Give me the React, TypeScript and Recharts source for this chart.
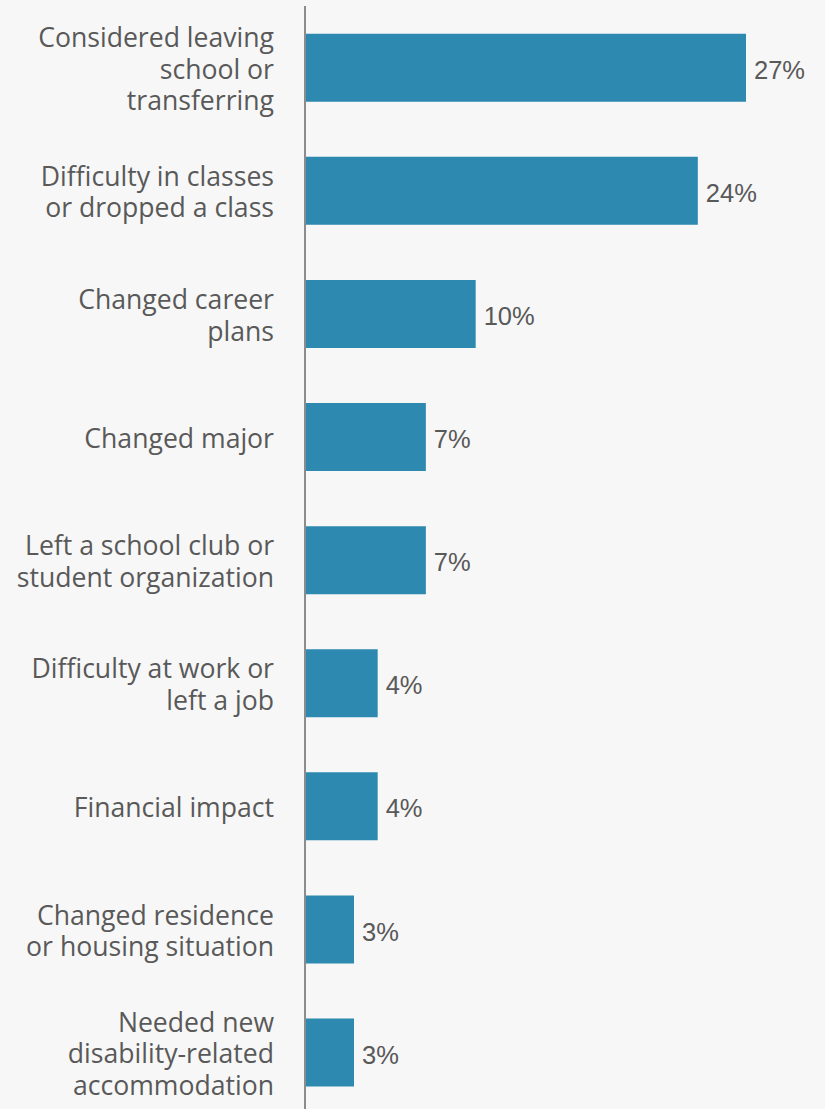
import React from "react";
import { BarChart, Bar, XAxis, YAxis, LabelList } from "recharts";

const categories: string[][] = [
  ["Considered leaving", "school or", "transferring"],
  ["Difficulty in classes", "or dropped a class"],
  ["Changed career", "plans"],
  ["Changed major"],
  ["Left a school club or", "student organization"],
  ["Difficulty at work or", "left a job"],
  ["Financial impact"],
  ["Changed residence", "or housing situation"],
  ["Needed new", "disability-related", "accommodation"],
];

const values: number[] = [27.0, 24.05, 10.45, 7.4, 7.4, 4.45, 4.45, 3.0, 3.0];

const data = categories.map((lines, i) => ({
  name: lines.join(" "),
  lines,
  value: values[i],
}));

const TEXT_COLOR = "#595959";
const BAR_COLOR = "#2d89b0";

const CategoryTick = (props: any) => {
  const { x, y, index } = props;
  const lines: string[] = data[index]?.lines ?? [String(props.payload?.value ?? "")];
  const lh = 31.5;
  const n = lines.length;
  return (
    <g>
      {lines.map((l, i) => (
        <text
          key={i}
          x={x}
          y={y + (i - (n - 1) / 2) * lh + 11}
          textAnchor="end"
          fill={TEXT_COLOR}
          fontFamily="'Open Sans', sans-serif"
          fontSize={26.6}
        >
          {l}
        </text>
      ))}
    </g>
  );
};

export default function App() {
  return (
    <div
      style={{
        position: "absolute",
        left: 0,
        top: 0,
        width: 825,
        height: 1109,
        overflow: "hidden",
        background: "#f7f7f7",
      }}
    >
      <BarChart
        layout="vertical"
        width={825}
        height={1114}
        data={data}
        margin={{ top: 6, right: 30, bottom: 0, left: 0 }}
        barCategoryGap="22.5%"
      >
        <XAxis type="number" domain={[0, 30]} hide allowDataOverflow />
        <YAxis
          type="category"
          dataKey="name"
          width={305}
          axisLine={{ stroke: "#8c8c8c", strokeWidth: 2 }}
          tickLine={false}
          tickSize={0}
          tickMargin={31}
          interval={0}
          tick={<CategoryTick />}
        />
        <Bar dataKey="value" fill={BAR_COLOR} isAnimationActive={false}>
          <LabelList
            dataKey="value"
            position="right"
            offset={8}
            dy={2}
            fill={TEXT_COLOR}
            fontFamily="'Liberation Sans', Arial, sans-serif"
            fontSize={25.5}
            formatter={(v: any) => `${Math.round(Number(v))}%`}
          />
        </Bar>
      </BarChart>
    </div>
  );
}
